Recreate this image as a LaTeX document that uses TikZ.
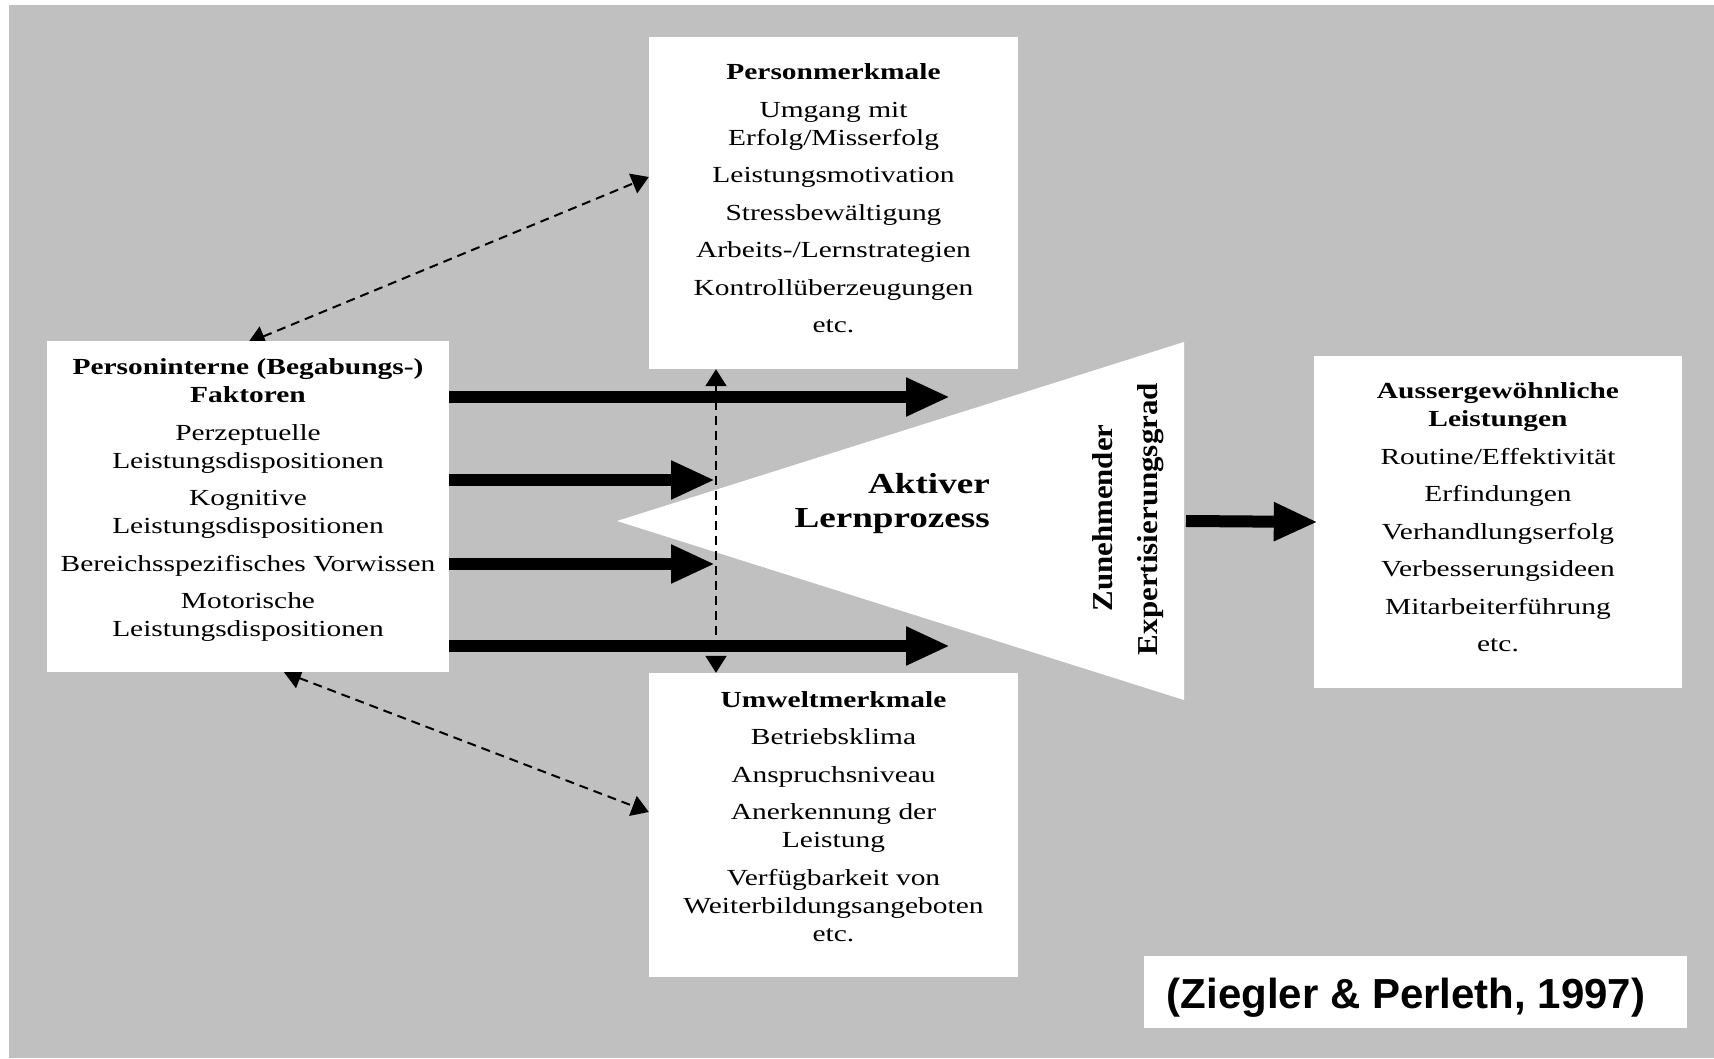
\documentclass[tikz,border=0pt]{standalone}
\usepackage{fontspec}
\setmainfont{Liberation Serif}[FakeStretch=1.28]
\newfontfamily\citefont{Liberation Sans}
\usetikzlibrary{arrows.meta,calc,backgrounds}
\definecolor{bggray}{HTML}{C0C0C0}
\begin{document}
\begin{tikzpicture}[x=1pt,y=1pt,
  box/.style={fill=white, draw=none, inner sep=0pt},
  txt/.style={align=center, inner sep=0pt, font=\fontsize{23}{28}\selectfont},
  bigarrow/.style={line width=12pt, -{Triangle[length=44pt,width=36pt]}},
  dasharrow/.style={line width=2pt, dash pattern=on 9pt off 6pt,
     {Triangle[length=17pt,width=21pt]}-{Triangle[length=17pt,width=21pt]}}]
\useasboundingbox (0,0) rectangle (1714,1058);

% boxes
\node[box, minimum width=402pt, minimum height=331pt] (pi) at (248,551.5) {};
\node[box, minimum width=369pt, minimum height=332pt] (pm) at (833.5,855) {};
\node[box, minimum width=369pt, minimum height=304pt] (um) at (833.5,233) {};
\node[box, minimum width=368pt, minimum height=332pt] (al) at (1498,536) {};
\node[box, minimum width=543pt, minimum height=72pt] (cit) at (1415.5,66) {};

\begin{scope}[on background layer]
  \fill[white] (0,0) rectangle (1714,1058);
  \fill[bggray] (9,0) rectangle (1714,1053);
  % triangle
  \coordinate (tA) at (617,537);
  \coordinate (tB) at (1184,716);
  \coordinate (tC) at (1184,358);
  \fill[white] (tA) -- (tB) -- (tC) -- cycle;
  % thick arrows
  \coordinate (e1) at (950,661);
  \coordinate (e2) at (715,578);
  \coordinate (e3) at (715,494);
  \coordinate (e4) at (950,412);
  \draw[bigarrow] (pi.east |- e1) -- (e1);
  \draw[bigarrow] (pi.east |- e2) -- (e2);
  \draw[bigarrow] (pi.east |- e3) -- (e3);
  \draw[bigarrow] (pi.east |- e4) -- (e4);
  % dashed connectors
  \draw[dasharrow] ([xshift=-117.5pt]pm.south) -- ([xshift=-117.5pt]um.north);
  \draw[dasharrow] ([yshift=-2pt]pi.north) -- ([yshift=26pt]pm.west);
  \draw[dasharrow] ([xshift=36pt]pi.south) -- ([yshift=13pt]um.west);
\end{scope}

% arrow to the result box (tip overlaps the box edge)
\draw[bigarrow] ([xshift=2pt]$(tB)!0.5!(tC)$) -- ([xshift=4pt]al.west);

% texts
\node[txt, anchor=north] (pmt) at ([yshift=-23.4pt]pm.north)
  {\textbf{Personmerkmale}\strut\\[9.5pt]
   Umgang mit\\ Erfolg/Misserfolg\\[9.5pt]
   Leistungsmotivation\\[9.5pt]
   Stressbewältigung\\[9.5pt]
   Arbeits-/Lernstrategien\\[9.5pt]
   Kontrollüberzeugungen\\[9.5pt]
   etc.};
\node[txt, anchor=north] (umt) at ([yshift=-14.4pt]um.north)
  {\textbf{Umweltmerkmale}\strut\\[9.5pt]
   Betriebsklima\\[9.5pt]
   Anspruchsniveau\\[9.5pt]
   Anerkennung der\\ Leistung\\[9.5pt]
   Verfügbarkeit von\\ Weiterbildungsangeboten\\ etc.};
\node[txt, anchor=north] (pit) at ([yshift=-14.4pt]pi.north)
  {\textbf{Personinterne (Begabungs-)}\strut\\ \textbf{Faktoren}\\[9.5pt]
   Perzeptuelle\\ Leistungsdispositionen\\[9.5pt]
   Kognitive\\ Leistungsdispositionen\\[9.5pt]
   Bereichsspezifisches Vorwissen\\[9.5pt]
   Motorische\\ Leistungsdispositionen};
\node[txt, anchor=north] (alt) at ([yshift=-23.4pt]al.north)
  {\textbf{Aussergewöhnliche}\strut\\ \textbf{Leistungen}\\[9.5pt]
   Routine/Effektivität\\[9.5pt]
   Erfindungen\\[9.5pt]
   Verhandlungserfolg\\[9.5pt]
   Verbesserungsideen\\[9.5pt]
   Mitarbeiterführung\\[9.5pt]
   etc.};

\node[anchor=north east, align=right, inner sep=0pt,
      font=\bfseries\fontsize{29}{34}\selectfont] (alp) at (990,588.8)
  {Aktiver\strut\\ Lernprozess};

\node[rotate=90, anchor=base, inner sep=0pt] (zun) at (1112,540)
  {\resizebox{187pt}{20pt}{\bfseries Zunehmender}};
\node[rotate=90, anchor=base, inner sep=0pt] (exg) at (1157,539)
  {\resizebox{272pt}{20pt}{\bfseries Expertisierungsgrad}};

\node[anchor=base, inner sep=0pt, font=\citefont\bfseries\fontsize{42}{50}\selectfont]
  (citt) at (1406,49) {(Ziegler \& Perleth, 1997)};
\end{tikzpicture}
\end{document}
